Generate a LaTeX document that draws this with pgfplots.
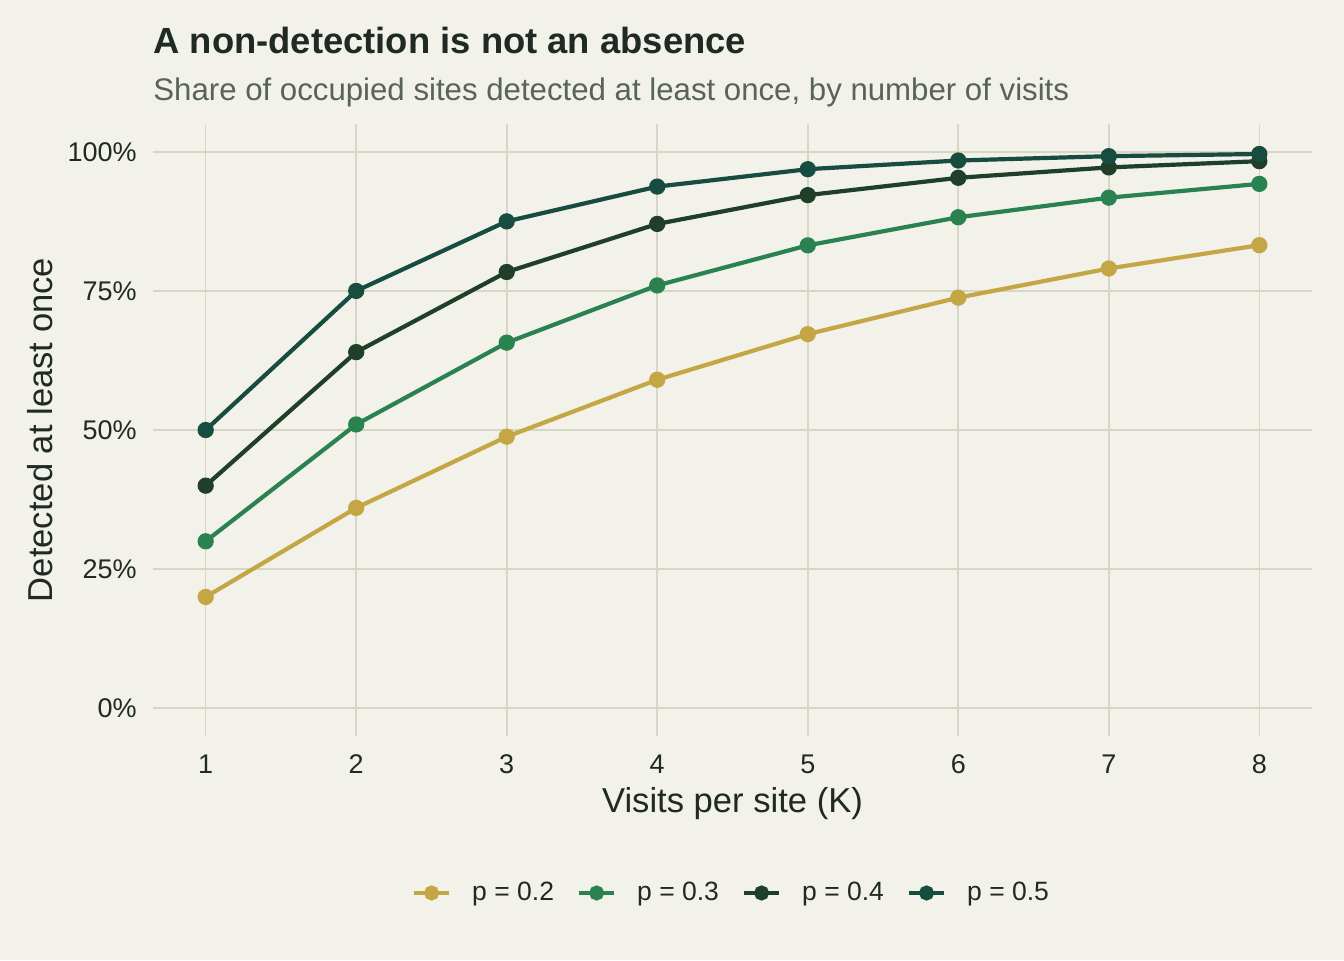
\documentclass[border=0pt]{standalone}
\usepackage{fontspec}
\setmainfont{Liberation Sans}
\usepackage{pgfplots}
\pgfplotsset{compat=1.18}

\definecolor{bgc}{HTML}{F2F1EA}
\definecolor{gridc}{HTML}{D6D6C4}
\definecolor{inkc}{HTML}{1F2A24}
\definecolor{subc}{HTML}{58635B}
\definecolor{pA}{HTML}{C4A645}
\definecolor{pB}{HTML}{2A8250}
\definecolor{pC}{HTML}{1F3F2A}
\definecolor{pD}{HTML}{174D41}

\begin{document}
\begin{tikzpicture}
\useasboundingbox (0,0) rectangle (672pt,-480pt);
\fill[bgc] (0,0) rectangle (672pt,-480pt);

\node[anchor=base west, inner sep=0pt, text=inkc, font=\fontsize{18.2}{21}\selectfont\bfseries]
  at (76.5pt,-26.5pt) {A non-detection is not an absence};
\node[anchor=base west, inner sep=0pt, text=subc, font=\fontsize{15.6}{18}\selectfont]
  at (76.5pt,-50pt) {Share of occupied sites detected at least once, by number of visits};

\begin{axis}[
  at={(76.5pt,-368pt)}, anchor=south west,
  scale only axis, width=579.5pt, height=306pt,
  xmin=0.65, xmax=8.35, ymin=-0.05, ymax=1.05,
  axis line style={draw=none},
  major tick length=0pt,
  xtick={1,...,8}, xticklabels={1,2,3,4,5,6,7,8},
  ytick={0,0.25,0.5,0.75,1}, yticklabels={0\%,25\%,50\%,75\%,100\%},
  /pgf/number format/assume math mode=true,
  xmajorgrids, ymajorgrids,
  major grid style={draw=gridc, line width=0.8pt},
  ticklabel style={font=\fontsize{13.5}{16}\selectfont, text=inkc, inner sep=0pt},
  xticklabel style={anchor=base, yshift=-18.5pt},
  yticklabel style={anchor=east, xshift=-8pt},
  xlabel={Visits per site (K)},
  ylabel={Detected at least once},
  label style={font=\fontsize{17.3}{20}\selectfont, text=inkc, inner sep=0pt},
  xlabel style={at={(axis description cs:0.5,-0.1242)}, anchor=base},
  ylabel style={at={(axis description cs:-0.0975,0.5)}, anchor=center},
  every axis plot/.append style={line width=2.1pt, mark=*, mark size=3pt, mark options={solid}},
  legend columns=4,
  legend style={at={(0.5,-0.2565)}, anchor=center, draw=none, fill=none,
    font=\fontsize{13.25}{16}\selectfont, text=inkc,
    /tikz/every odd column/.append style={column sep=8.5pt},
    /tikz/every even column/.append style={column sep=9.5pt}},
  legend image code/.code={\draw[mark repeat=2, mark phase=2, #1, mark size=2.7pt]
    plot coordinates {(0pt,0pt) (8.75pt,0pt) (17.5pt,0pt)};},
  clip=false,
]
% detection probability after K visits, one series per per-visit probability p
\addplot[pA] coordinates {(1,0.2) (2,0.36) (3,0.488) (4,0.5904) (5,0.6723) (6,0.7379) (7,0.7903) (8,0.8322)};
\addlegendentry{p = 0.2}
\addplot[pB] coordinates {(1,0.3) (2,0.51) (3,0.657) (4,0.7599) (5,0.8319) (6,0.8824) (7,0.9176) (8,0.9424)};
\addlegendentry{p = 0.3}
\addplot[pC] coordinates {(1,0.4) (2,0.64) (3,0.784) (4,0.8704) (5,0.9222) (6,0.9533) (7,0.9720) (8,0.9832)};
\addlegendentry{p = 0.4}
\addplot[pD] coordinates {(1,0.5) (2,0.75) (3,0.875) (4,0.9375) (5,0.9688) (6,0.9844) (7,0.9922) (8,0.9961)};
\addlegendentry{p = 0.5}
\end{axis}
\end{tikzpicture}
\end{document}
